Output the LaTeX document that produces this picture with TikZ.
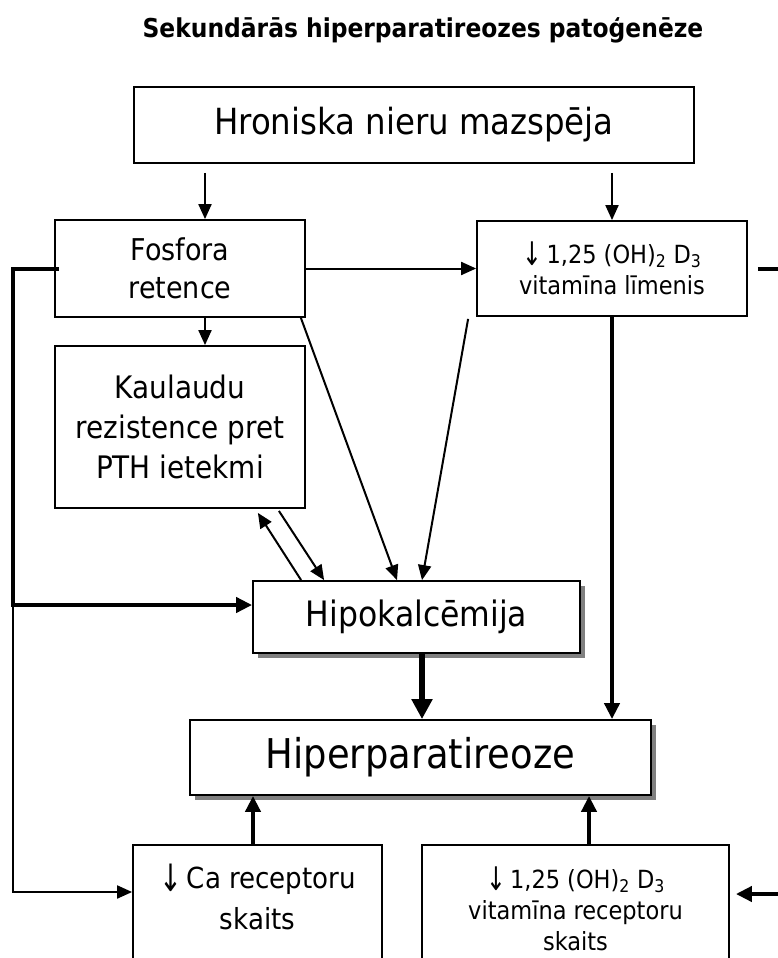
\documentclass[tikz,border=0pt]{standalone}
\usepackage{fontspec}
\setmainfont{DejaVu Sans Condensed}
\usetikzlibrary{arrows.meta}
\usetikzlibrary{calc,shadows}
\newcommand{\dnarr}{\raisebox{-0.1em}{\scalebox{1.05}[1.3]{↓}}}

\begin{document}
\begin{tikzpicture}[x=1pt, y=-1pt,
	box/.style={draw, line width=1.8pt, fill=white, align=center, inner sep=0pt},
	shbox/.style={box, general shadow={fill=black!50, shadow xshift=5pt, shadow yshift=-5pt}},
	arr/.style={line width=2pt, -{Triangle[length=15pt, width=13pt]}},
	thk/.style={line width=4pt, -{Triangle[length=16pt, width=15pt]}},
	xthk/.style={line width=6pt, -{Triangle[length=20pt, width=20pt]}}]
	\path[use as bounding box, clip] (0,0) rectangle (778,958);

	\node[font=\bfseries\fontsize{26}{30}\selectfont] (title) at (423,30) {Sekundārās hiperparatireozes patoģenēze};
	\node[box, minimum width=560pt, minimum height=76pt, font=\fontsize{36}{40}\selectfont] (hron) at (414,125) {Hroniska nieru mazspēja};
	\node[box, minimum width=250pt, minimum height=97pt, font=\fontsize{30}{38}\selectfont] (fos) at (180,268.5) {Fosfora\\retence};
	\node[box, minimum width=270pt, minimum height=95pt, font=\fontsize{25}{31}\selectfont] (vit) at (612,268.5) {\dnarr\,1,25 (OH)\textsubscript{2} D\textsubscript{3}\\vitamīna līmenis};
	\node[box, minimum width=250pt, minimum height=162pt, font=\fontsize{31}{40}\selectfont] (kau) at (180,427) {Kaulaudu\\rezistence pret\\PTH ietekmi};
	\node[shbox, minimum width=327pt, minimum height=72pt, font=\fontsize{35}{40}\selectfont] (hipo) at (416.5,617) {Hipokalcēmija};
	\node[shbox, minimum width=461pt, minimum height=75pt, font=\fontsize{41}{44}\selectfont] (hip) at (420.5,757.5) {Hiperparatireoze};
	\node[box, anchor=north, minimum width=249pt, inner ysep=19pt, text depth=60pt, font=\fontsize{29}{41}\selectfont] (ca) at (257.5,844) {\dnarr\,Ca receptoru\\skaits};
	\node[box, anchor=north, minimum width=307pt, inner ysep=22pt, text depth=40pt, font=\fontsize{25}{31}\selectfont] (vrec) at (575.5,844) {\dnarr\,1,25 (OH)\textsubscript{2} D\textsubscript{3}\\vitamīna receptoru\\skaits};

	\coordinate (lc) at (13,605);
	\coordinate (rc) at (800,0);

	\draw[arr, shorten <=9pt] ([xshift=25pt]fos.north |- hron.south) -- ([xshift=25pt]fos.north);
	\draw[arr, shorten <=9pt] (vit.north |- hron.south) -- (vit.north);
	\draw[arr] (fos.east) -- (vit.west);
	\draw[arr] ([xshift=25pt]fos.south) -- ([xshift=25pt]kau.north);
	\draw[arr] ($(fos.south east)+(-5,0)$) -- ($(hipo.north)+(-19.5,0)$);
	\draw[arr] ($(vit.south west)+(-8,2)$) -- ($(hipo.north)+(5.5,0)$);
	\draw[arr] ($(hipo.north west)+(49,0)$) -- ($(kau.south east)+(-48,4)$);
	\draw[arr] ($(kau.south east)+(-27,2)$) -- ($(hipo.north west)+(72,0)$);
	\draw[thk] ($(fos.west)+(5,0)$) -| (lc) -- (lc -| hipo.west);
	\draw[arr] (lc) |- ($(ca.north west)+(0,48)$);
	\draw[thk, shorten <=10pt, shorten >=6pt] (vit.east) -- (vit.east -| rc) |- ($(vrec.north east)+(0,50)$);
	\draw[xthk] ([xshift=5.5pt]hipo.south) -- ([xshift=5.5pt]hipo.south |- hip.north);
	\draw[thk] (vit.south) -- (vit.south |- hip.north);
	\draw[thk] ([xshift=-4.5pt]ca.north) -- ([xshift=-4.5pt]ca.north |- hip.south);
	\draw[thk] ([xshift=13.5pt]vrec.north) -- ([xshift=13.5pt]vrec.north |- hip.south);
\end{tikzpicture}
\end{document}
